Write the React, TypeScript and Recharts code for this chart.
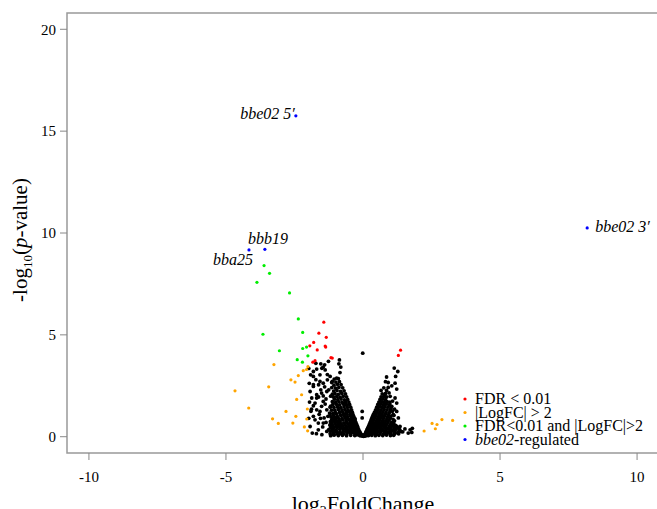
import { Legend, ReferenceArea, Scatter, ScatterChart, XAxis, YAxis, Label } from "recharts";

// black = not significant
const blackPoints: [number, number][] = [
  [-0.03, 0.03], [-0.08, 0.05], [0.02, 0.02], [-0.12, 0.06],
  [-0.05, 0.1], [-0.16, 0.11], [-0.22, 0.09], [-0.1, 0.13], [0.05, 0.08],
  [-0.09, 0.17], [-0.19, 0.18], [-0.28, 0.16], [-0.35, 0.19], [-0.14, 0.2],
  [-0.12, 0.25], [-0.21, 0.26], [-0.3, 0.24], [-0.41, 0.27], [-0.5, 0.25], [-0.26, 0.29],
  [-0.15, 0.33], [-0.24, 0.34], [-0.33, 0.32], [-0.44, 0.35], [-0.55, 0.33], [-0.63, 0.36],
  [-0.18, 0.42], [-0.27, 0.41], [-0.37, 0.44], [-0.47, 0.42], [-0.58, 0.45], [-0.7, 0.41],
  [-0.2, 0.5], [-0.31, 0.52], [-0.41, 0.49], [-0.51, 0.53], [-0.62, 0.5], [-0.74, 0.52],
  [-0.23, 0.6], [-0.33, 0.61], [-0.44, 0.58], [-0.55, 0.62], [-0.66, 0.59], [-0.79, 0.61], [-0.38, 0.65],
  [-0.26, 0.7], [-0.36, 0.72], [-0.47, 0.69], [-0.59, 0.71], [-0.7, 0.68], [-0.83, 0.72],
  [-0.29, 0.8], [-0.4, 0.79], [-0.5, 0.82], [-0.62, 0.8], [-0.74, 0.83], [-0.86, 0.79],
  [-0.31, 0.9], [-0.42, 0.91], [-0.53, 0.88], [-0.65, 0.92], [-0.77, 0.89], [-0.9, 0.91], [-0.6, 0.95],
  [-0.34, 1.0], [-0.45, 1.02], [-0.57, 0.99], [-0.68, 1.01], [-0.8, 1.03], [-0.93, 0.98],
  [-0.37, 1.1], [-0.48, 1.09], [-0.6, 1.12], [-0.71, 1.1], [-0.83, 1.08], [-0.97, 1.11],
  [-0.39, 1.2], [-0.5, 1.22], [-0.62, 1.19], [-0.74, 1.21], [-0.86, 1.2], [-1.0, 1.18], [-0.56, 1.26],
  [-0.42, 1.32], [-0.54, 1.3], [-0.66, 1.33], [-0.77, 1.31], [-0.9, 1.34], [-1.03, 1.3],
  [-0.45, 1.45], [-0.57, 1.44], [-0.69, 1.47], [-0.81, 1.43], [-0.93, 1.46], [-1.06, 1.44],
  [-0.49, 1.58], [-0.6, 1.57], [-0.72, 1.6], [-0.85, 1.56], [-0.97, 1.59], [-1.1, 1.58],
  [-0.52, 1.7], [-0.64, 1.72], [-0.76, 1.69], [-0.88, 1.71], [-1.0, 1.68], [-1.12, 1.72],
  [-0.56, 1.83], [-0.68, 1.81], [-0.8, 1.85], [-0.92, 1.82], [-1.04, 1.84],
  [-0.6, 1.96], [-0.72, 1.98], [-0.84, 1.94], [-0.96, 1.97], [-1.08, 1.95], [-1.18, 1.99],
  [-0.64, 2.1], [-0.77, 2.12], [-0.9, 2.08], [-1.02, 2.11], [-1.12, 2.09],
  [-0.69, 2.25], [-0.82, 2.23], [-0.95, 2.27], [-1.07, 2.24],
  [-0.74, 2.4], [-0.88, 2.42], [-1.0, 2.38], [-1.14, 2.41],
  [-0.8, 2.55], [-0.93, 2.57], [-1.06, 2.53],
  [-0.86, 2.7], [-0.99, 2.68], [-1.12, 2.72],
  [-0.9, 2.85], [-1.05, 2.83],
  // lower part of the left arm
  [-0.3, 0.06], [-0.45, 0.07], [-0.6, 0.05], [-0.75, 0.07], [-0.9, 0.06], [-1.05, 0.08], [-1.18, 0.05],
  [-0.45, 0.15], [-0.58, 0.16], [-0.7, 0.14], [-0.82, 0.16], [-0.95, 0.15], [-1.08, 0.17], [-1.2, 0.14],
  [-0.6, 0.25], [-0.72, 0.26], [-0.84, 0.24], [-0.97, 0.26], [-1.1, 0.25], [-1.19, 0.27],
  [-0.73, 0.35], [-0.85, 0.36], [-0.98, 0.34], [-1.12, 0.36],
  [-0.82, 0.45], [-0.94, 0.46], [-1.06, 0.44], [-1.18, 0.46],
  [-0.86, 0.55], [-0.98, 0.56], [-1.1, 0.54], [-1.2, 0.56],
  [-0.9, 0.65], [-1.02, 0.66], [-1.14, 0.64],
  [-0.96, 0.75], [-1.08, 0.76], [-1.19, 0.74],
  [-1.0, 0.85], [-1.12, 0.86], [-1.04, 0.95], [-1.16, 0.96],
  [-1.08, 1.05], [-1.2, 1.06], [-1.1, 1.15], [-1.22, 1.16], [-1.15, 1.3], [-1.18, 1.5],
  // right arm
  [0.03, 0.04], [0.07, 0.03], [0.12, 0.05],
  [0.06, 0.1], [0.12, 0.11], [0.19, 0.09], [0.26, 0.12],
  [0.09, 0.17], [0.16, 0.18], [0.24, 0.16], [0.32, 0.19], [0.41, 0.17],
  [0.11, 0.25], [0.19, 0.26], [0.28, 0.24], [0.37, 0.27], [0.47, 0.25], [0.56, 0.26],
  [0.14, 0.33], [0.22, 0.34], [0.31, 0.32], [0.41, 0.35], [0.51, 0.33], [0.62, 0.34], [0.73, 0.32],
  [0.17, 0.42], [0.26, 0.41], [0.35, 0.44], [0.45, 0.42], [0.56, 0.43], [0.67, 0.41], [0.79, 0.44], [0.9, 0.42],
  [0.2, 0.5], [0.29, 0.52], [0.39, 0.49], [0.49, 0.51], [0.6, 0.5], [0.71, 0.53], [0.83, 0.49], [0.96, 0.51],
  [0.23, 0.6], [0.32, 0.61], [0.42, 0.59], [0.53, 0.62], [0.64, 0.6], [0.75, 0.58], [0.87, 0.61], [1.0, 0.59],
  [0.26, 0.7], [0.35, 0.71], [0.46, 0.69], [0.57, 0.72], [0.68, 0.7], [0.79, 0.68], [0.91, 0.71], [1.03, 0.69],
  [0.29, 0.8], [0.39, 0.81], [0.5, 0.79], [0.61, 0.82], [0.72, 0.8], [0.83, 0.78], [0.95, 0.81],
  [0.32, 0.9], [0.42, 0.91], [0.53, 0.89], [0.64, 0.92], [0.75, 0.9], [0.87, 0.88], [0.99, 0.91],
  [0.35, 1.0], [0.45, 1.01], [0.56, 0.99], [0.67, 1.02], [0.78, 1.0], [0.9, 0.98], [1.02, 1.01],
  [0.38, 1.1], [0.48, 1.11], [0.59, 1.09], [0.7, 1.12], [0.81, 1.1], [0.93, 1.08],
  [0.42, 1.2], [0.52, 1.21], [0.62, 1.19], [0.73, 1.22], [0.84, 1.2], [0.96, 1.18],
  [0.46, 1.32], [0.56, 1.33], [0.66, 1.31], [0.77, 1.34], [0.88, 1.32],
  [0.5, 1.45], [0.6, 1.46], [0.7, 1.44], [0.8, 1.47], [0.91, 1.45],
  [0.54, 1.58], [0.64, 1.59], [0.74, 1.57], [0.85, 1.6],
  [0.58, 1.7], [0.68, 1.71], [0.78, 1.69], [0.88, 1.72],
  [0.62, 1.83], [0.72, 1.84], [0.82, 1.82],
  [0.66, 1.96], [0.76, 1.97], [0.86, 1.95],
  // lower and outer part of the right arm
  [0.2, 0.06], [0.32, 0.07], [0.45, 0.05], [0.58, 0.07], [0.72, 0.06], [0.86, 0.08], [1.0, 0.06], [1.12, 0.07],
  [0.5, 0.15], [0.62, 0.16], [0.75, 0.14], [0.88, 0.16], [1.02, 0.15], [1.16, 0.17], [1.3, 0.14],
  [0.66, 0.25], [0.78, 0.26], [0.9, 0.24], [1.03, 0.26], [1.17, 0.25], [1.31, 0.27], [1.45, 0.24],
  [0.84, 0.35], [0.96, 0.36], [1.08, 0.34], [1.2, 0.36], [1.34, 0.35],
  [1.01, 0.45], [1.13, 0.46], [1.26, 0.44], [1.08, 0.55], [1.19, 0.56], [1.12, 0.65],
  [1.15, 0.78], [1.1, 0.85], [1.13, 1.05], [1.07, 1.25], [1.02, 1.4], [0.96, 1.55], [0.98, 1.7],
  [0.7, 2.1], [0.82, 2.12], [0.76, 2.4], [0.92, 2.42], [0.82, 2.7],
  // scattered, left side
  [-0.01, 4.1], [-0.86, 3.77], [-0.88, 3.58], [-0.81, 3.42], [-0.84, 3.15], [-1.54, 3.58], [-1.45, 3.42],
  [-1.69, 3.32], [-1.38, 3.28], [-1.81, 3.2], [-1.91, 3.04], [-1.57, 3.04], [-1.2, 2.96], [-0.96, 2.88],
  [-1.3, 2.79], [-1.45, 2.63], [-1.14, 2.66], [-1.62, 2.55], [-1.81, 2.47], [-1.93, 2.22], [-1.32, 2.22],
  [-1.51, 2.14], [-1.69, 1.9], [-1.45, 1.73], [-1.81, 1.52], [-0.66, 1.65], [-1.32, 1.32], [-1.57, 1.24],
  [-1.75, 0.83], [-1.45, 0.67], [-1.2, 0.59], [-1.93, 0.5], [-0.96, 0.5], [-1.63, 0.34], [-1.32, 0.26],
  [-1.08, 0.1], [-1.85, 0.18], [-1.47, 0.48], [-1.63, 0.67], [-1.42, 0.92], [-1.81, 1.0], [-1.69, 1.32],
  [-1.51, 1.49], [-1.87, 1.9], [-1.69, 2.06], [-1.54, 2.3], [-1.81, 2.55], [-1.57, 2.71], [-1.81, 2.96],
  [-1.4, 3.53], [-1.5, 3.36], [-0.03, 1.24], [-0.03, 0.92], [-0.29, 0.87],
  [-1.25, 0.35], [-1.15, 0.8], [-1.28, 1.0], [-1.2, 1.45], [-1.35, 1.85], [-1.25, 2.3], [-1.0, 0.3],
  [-0.85, 0.2], [-0.75, 0.15], [-1.1, 0.45], [-0.95, 0.75],
  [-1.98, 0.9], [-1.9, 1.25], [-1.75, 1.65], [-1.95, 1.7], [-1.62, 1.95], [-1.4, 2.45], [-1.72, 2.8],
  [-1.3, 3.05], [-1.96, 2.62], [-1.55, 0.9], [-1.38, 1.6], [-1.7, 0.15], [-1.5, 0.1], [-1.35, 0.7],
  [-1.88, 1.35], [-1.6, 1.1], [-1.45, 2.0], [-1.98, 3.35], [-1.72, 3.6], [-1.26, 3.7],
  // scattered, right side
  [1.14, 3.37], [1.27, 3.2], [1.19, 2.96], [0.86, 2.93], [0.92, 2.66], [1.17, 2.63], [1.05, 2.5],
  [0.66, 2.27], [0.86, 2.27], [1.23, 2.34], [0.78, 2.06], [0.99, 1.98], [1.17, 1.9], [1.23, 1.65],
  [1.05, 1.49], [1.23, 1.24], [1.29, 0.92], [1.11, 0.75], [1.35, 0.5], [1.53, 0.38], [1.72, 0.34],
  [1.8, 0.41], [1.65, 0.18], [1.27, 0.18], [1.23, 0.5], [1.78, 0.21], [1.1, 0.3], [1.15, 0.15],
  [1.4, 0.25], [0.95, 0.2], [0.8, 0.15], [1.0, 1.3], [1.1, 1.1], [1.15, 1.35], [0.98, 1.6],
  [1.08, 1.75], [0.95, 2.15],
];

// FDR < 0.01
const redPoints: [number, number][] = [
  [-1.43, 5.62], [-1.61, 5.08], [-1.34, 4.88], [-1.8, 4.63], [-1.94, 4.46], [-1.38, 4.45], [-1.36, 4.4],
  [-1.67, 4.26], [-1.17, 3.88], [-1.12, 3.86], [-1.83, 3.66], [-1.75, 3.73], [1.37, 4.25], [1.29, 3.99],
];

// |LogFC| > 2
const orangePoints: [number, number][] = [
  [-2.01, 3.44], [-2.06, 3.3], [-2.18, 3.24], [-2.36, 3.0], [-3.25, 3.54], [-2.63, 2.79], [-2.48, 2.68],
  [-3.44, 2.45], [-4.67, 2.25], [-2.24, 2.06], [-2.42, 1.83], [-4.17, 1.41], [-2.81, 1.24], [-2.03, 1.36],
  [-3.3, 0.88], [-2.45, 1.0], [-2.05, 0.87], [-3.09, 0.65], [-2.56, 0.67], [-2.14, 0.48], [-2.02, 0.29],
  [2.23, 0.28], [2.52, 0.65], [2.64, 0.39], [2.7, 0.6], [2.88, 0.84], [3.27, 0.8],
];

// FDR<0.01 and |LogFC|>2
const greenPoints: [number, number][] = [
  [-3.41, 8.02], [-3.61, 8.4], [-3.87, 7.58], [-2.68, 7.06], [-2.36, 5.78], [-3.65, 5.03], [-2.2, 5.12],
  [-3.05, 4.22], [-2.2, 4.33], [-2.06, 4.4], [-2.01, 3.97], [-2.4, 3.78], [-2.21, 3.66],
];

// bbe02-regulated
const blueGenes = ["bbe02 5\u2032", "bbb19", "bba25", "bbe02 3\u2032"];
const blueX = [-2.45, -3.58, -4.16, 8.18];
const blueY = [15.75, 9.2, 9.17, 10.25];

const xTicks = [-10, -5, 0, 5, 10];
const yTicks = [0, 5, 10, 15, 20];
const legendLabels = ["FDR < 0.01", "|LogFC| > 2", "FDR<0.01 and |LogFC|>2", "-regulated"];

const COLORS = { black: "#000000", red: "#ff0000", orange: "#ffa500", green: "#00ee00", blue: "#0000ff" };
const legendColors = [COLORS.red, COLORS.orange, COLORS.green, COLORS.blue];
const FONT = "Liberation Serif";

const toData = (pts: [number, number][]) => pts.map(([x, y]) => ({ x, y }));
const blueData = blueGenes.map((name, i) => ({ name, x: blueX[i], y: blueY[i] }));

const labelPlacement: Record<string, { dx: number; dy: number; anchor: "start" | "middle" | "end" }> = {
  "bbe02 5\u2032": { dx: -1, dy: 3, anchor: "end" },
  bbb19: { dx: 3, dy: -5, anchor: "middle" },
  bba25: { dx: 4, dy: 15, anchor: "end" },
  "bbe02 3\u2032": { dx: 8, dy: 4, anchor: "start" },
};

const dot = (color: string, r: number) => (props: any) => (
  <circle cx={props.cx} cy={props.cy} r={r} fill={color} />
);

const labeledDot = (props: any) => {
  const p = labelPlacement[props.payload.name];
  return (
    <g>
      <circle cx={props.cx} cy={props.cy} r={1.6} fill={COLORS.blue} />
      <text
        x={props.cx + p.dx}
        y={props.cy + p.dy}
        textAnchor={p.anchor}
        fontFamily={FONT}
        fontStyle="italic"
        fontSize={16}
        fill="#000"
      >
        {props.payload.name}
      </text>
    </g>
  );
};

const XTitle = (props: any) => {
  const vb = props.viewBox;
  return (
    <text x={vb.x + vb.width / 2} y={511} textAnchor="middle" fontFamily={FONT} fontSize={22} fill="#000">
      log
      <tspan fontSize={14} dy={5}>2</tspan>
      <tspan dy={-5}>FoldChange</tspan>
    </text>
  );
};

const YTitle = () => {
  const x = 27;
  const y = 240;
  return (
    <text x={x} y={y} transform={`rotate(-90 ${x} ${y})`} textAnchor="middle" fontFamily={FONT} fontSize={21} fill="#000">
      -log
      <tspan fontSize={13} dy={5}>10</tspan>
      <tspan dy={-5}>(</tspan>
      <tspan fontStyle="italic">p</tspan>
      <tspan>-value)</tspan>
    </text>
  );
};

const renderLegend = () => (
  <svg width={200} height={60} style={{ display: "block" }}>
    {legendLabels.map((label, i) => {
      const cy = 9 + i * 13.5;
      return (
        <g key={label}>
          <circle cx={7} cy={cy} r={1.6} fill={legendColors[i]} />
          <text x={17} y={cy + 5} fontFamily={FONT} fontSize={16} fill="#000">
            {i === 3 ? <tspan fontStyle="italic">bbe02</tspan> : null}
            {label}
          </text>
        </g>
      );
    })}
  </svg>
);

const tickStyle = { fontSize: 15, fill: "#000", fontFamily: FONT };

export default function App() {
  return (
    <div
      style={{
        position: "absolute",
        left: 0,
        top: 0,
        width: 657,
        height: 509,
        overflow: "hidden",
        background: "#fff",
        fontFamily: FONT,
      }}
    >
      <ScatterChart width={672} height={509} margin={{ top: 13, right: 13, bottom: 16, left: 7 }}>
        <XAxis
          type="number"
          dataKey="x"
          domain={[-10.8, 10.8]}
          ticks={xTicks}
          allowDataOverflow
          axisLine={false}
          tickLine={{ stroke: "#888" }}
          tickSize={7}
          tickMargin={11}
          tick={tickStyle}
          height={40}
        >
          <Label content={XTitle} />
        </XAxis>
        <YAxis
          type="number"
          dataKey="y"
          domain={[-0.8, 20.8]}
          ticks={yTicks}
          allowDataOverflow
          axisLine={false}
          tickLine={{ stroke: "#888" }}
          tickSize={7}
          tickMargin={4}
          tick={tickStyle}
          width={60}
        >
          <Label content={YTitle} />
        </YAxis>
        <ReferenceArea x1={-10.8} x2={10.8} y1={-0.8} y2={20.8} fill="none" stroke="#999" strokeWidth={1.5} />
        <Scatter data={toData(blackPoints)} shape={dot(COLORS.black, 1.9)} isAnimationActive={false} />
        <Scatter data={toData(redPoints)} shape={dot(COLORS.red, 1.6)} isAnimationActive={false} />
        <Scatter data={toData(orangePoints)} shape={dot(COLORS.orange, 1.6)} isAnimationActive={false} />
        <Scatter data={toData(greenPoints)} shape={dot(COLORS.green, 1.6)} isAnimationActive={false} />
        <Scatter data={blueData} shape={labeledDot} isAnimationActive={false} />
        <Legend
          layout="vertical"
          align="center"
          verticalAlign="middle"
          content={renderLegend}
          wrapperStyle={{ position: "absolute", left: 458, top: 390, width: 200, height: 60 }}
        />
      </ScatterChart>
    </div>
  );
}
